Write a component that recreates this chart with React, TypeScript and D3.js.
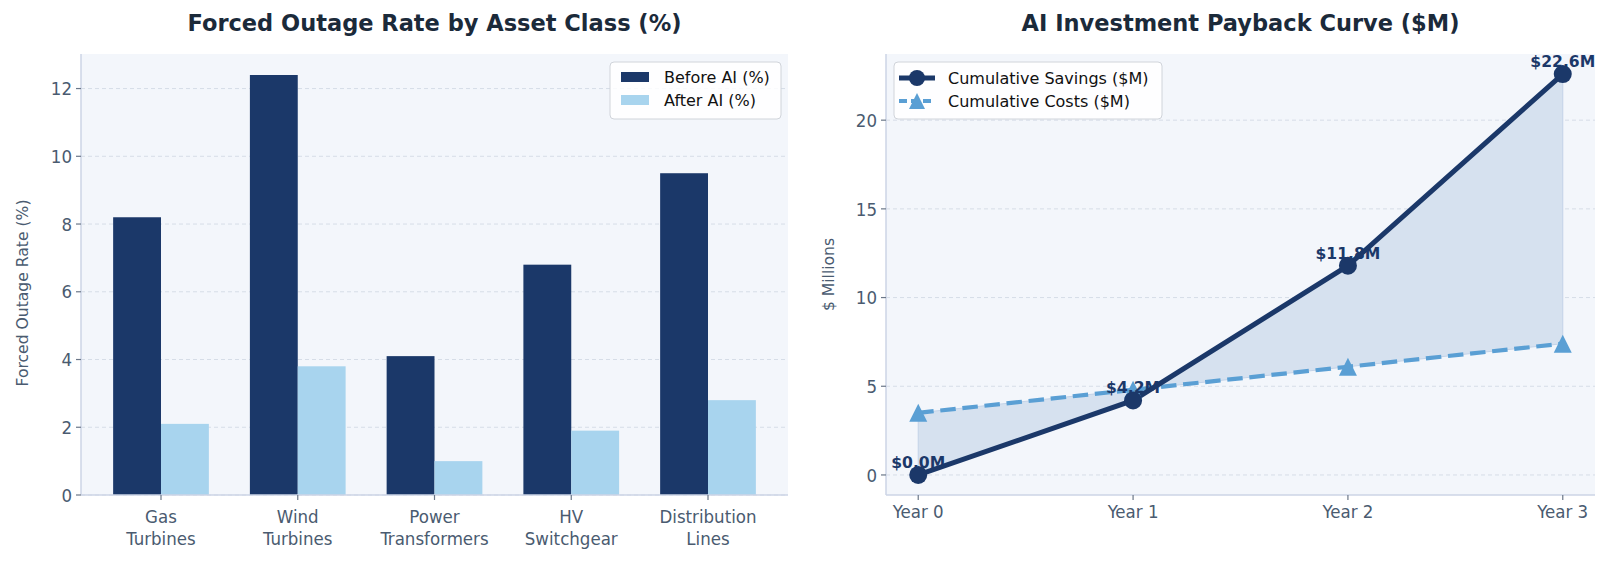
import React from 'react';
import * as d3 from 'd3';

// data
const assetClasses = ['Gas\nTurbines', 'Wind\nTurbines', 'Power\nTransformers', 'HV\nSwitchgear', 'Distribution\nLines'];
const beforeAI = [8.2, 12.4, 4.1, 6.8, 9.5];
const afterAI = [2.1, 3.8, 1.0, 1.9, 2.8];
const outageTicks = [0, 2, 4, 6, 8, 10, 12];

const years = ['Year 0', 'Year 1', 'Year 2', 'Year 3'];
const savings = [0, 4.2, 11.8, 22.6];
const costs = [3.5, 4.8, 6.1, 7.4];
const moneyTicks = [0, 5, 10, 15, 20];

const NAVY = '#1b3869';
const LIGHT = '#a8d4ee';
const BLUE = '#5a9fd4';
const BG = '#f3f6fb';
const SPINE = '#ccd5e6';
const TICK = '#4a5b70';
const GRID = '#d6dde7';
const FONT = 'DejaVu Sans';
const TICK_FS = 18.5;

const W = 1611;
const H = 566;

const left = { x0: 81, x1: 788, y0: 54, y1: 495 };
const right = { x0: 886, x1: 1595, y0: 54, y1: 495 };

function Axes({ box, y, yTicks }) {
  return (
    <g>
      <rect x={box.x0} y={box.y0} width={box.x1 - box.x0} height={box.y1 - box.y0} fill={BG} />
      {yTicks.map(t => (
        <line key={'g' + t} x1={box.x0} x2={box.x1} y1={y(t)} y2={y(t)}
          stroke={GRID} strokeWidth={1} strokeDasharray="4,3" />
      ))}
    </g>
  );
}

function Spines({ box, y, yTicks }) {
  return (
    <g>
      <line x1={box.x0} x2={box.x0} y1={box.y0} y2={box.y1} stroke={SPINE} strokeWidth={1.5} />
      <line x1={box.x0} x2={box.x1} y1={box.y1} y2={box.y1} stroke={SPINE} strokeWidth={1.5} />
      {yTicks.map(t => (
        <g key={'t' + t}>
          <line x1={box.x0 - 5} x2={box.x0} y1={y(t)} y2={y(t)} stroke="#6b7788" strokeWidth={1.2} />
          <text x={box.x0 - 9} y={y(t)} dy="0.36em" textAnchor="end" fontSize={TICK_FS} fontStretch="condensed"
            fill={TICK}>{t}</text>
        </g>
      ))}
    </g>
  );
}

export default function App() {
  // left: grouped bars
  const xb = d3.scaleLinear().domain([-0.585, 4.585]).range([left.x0, left.x1]);
  const yb = d3.scaleLinear().domain([0, 13.02]).range([left.y1, left.y0]);
  const bw = xb(0.35) - xb(0);

  // right: payback curve
  const xl = d3.scaleLinear().domain([-0.15, 3.15]).range([right.x0, right.x1]);
  const yl = d3.scaleLinear().domain([-1.13, 23.73]).range([right.y1, right.y0]);

  const line = d3.line<number>().x((d, i) => xl(i)).y(d => yl(d));
  const area = d3.area<number>().x((d, i) => xl(i)).y0((d, i) => yl(costs[i])).y1(d => yl(d));

  const tri = (cx, cy, r) => `M${cx},${cy - r}L${cx - r},${cy + r}L${cx + r},${cy + r}Z`;

  return (
    <svg width={W} height={H} style={{ position: 'absolute', left: 0, top: 0 }} fontFamily={FONT}>
      <rect width={W} height={H} fill="#fff" />

      {/* ---- left chart ---- */}
      <Axes box={left} y={yb} yTicks={outageTicks} />
      {beforeAI.map((v, i) => (
        <rect key={'b' + i} x={xb(i) - bw} y={yb(v)} width={bw} height={yb(0) - yb(v)} fill={NAVY} />
      ))}
      {afterAI.map((v, i) => (
        <rect key={'a' + i} x={xb(i)} y={yb(v)} width={bw} height={yb(0) - yb(v)} fill={LIGHT} />
      ))}
      <Spines box={left} y={yb} yTicks={outageTicks} />
      {assetClasses.map((c, i) => (
        <g key={'c' + i}>
          <line x1={xb(i)} x2={xb(i)} y1={left.y1} y2={left.y1 + 5} stroke="#6b7788" strokeWidth={1.2} />
          {c.split('\n').map((s, j) => (
            <text key={j} x={xb(i)} y={left.y1 + 28 + j * 21.5} textAnchor="middle" fontSize={TICK_FS}
              fontStretch="condensed" fill={TICK}>{s}</text>
          ))}
        </g>
      ))}
      <text transform={`translate(28,293) rotate(-90)`} textAnchor="middle"
        fontSize={15.6} fill={TICK}>Forced Outage Rate (%)</text>
      <text x={(left.x0 + left.x1) / 2} y={31} textAnchor="middle" fontSize={22.5} fontWeight="bold"
        fill="#1b2a3a">Forced Outage Rate by Asset Class (%)</text>

      {/* legend */}
      <g>
        <rect x={610} y={62} width={171} height={57} rx={4} fill="#fff" fillOpacity={0.85} stroke="#d0d4da" />
        <rect x={621} y={72} width={28} height={10} fill={NAVY} />
        <text x={664} y={83} fontSize={16} fill="#111">Before AI (%)</text>
        <rect x={621} y={95} width={28} height={10} fill={LIGHT} />
        <text x={664} y={106} fontSize={16} fill="#111">After AI (%)</text>
      </g>

      {/* ---- right chart ---- */}
      <Axes box={right} y={yl} yTicks={moneyTicks} />
      <path d={area(savings) ?? ''} fill="#d6e1ef" stroke="#c3d3e8" strokeWidth={1} />
      <path d={line(costs) ?? ''} fill="none" stroke={BLUE} strokeWidth={4.2} strokeDasharray="15.5,6.7" />
      <path d={line(savings) ?? ''} fill="none" stroke={NAVY} strokeWidth={5} />
      {costs.map((v, i) => (
        <path key={'m' + i} d={tri(xl(i), yl(v), 9)} fill={BLUE} />
      ))}
      {savings.map((v, i) => (
        <circle key={'s' + i} cx={xl(i)} cy={yl(v)} r={9} fill={NAVY} />
      ))}
      {savings.map((v, i) => (
        <text key={'l' + i} x={xl(i)} y={yl(v) - 7} textAnchor="middle" fontSize={15.6} fontWeight="bold"
          fill={NAVY}>{`$${v.toFixed(1)}M`}</text>
      ))}
      <Spines box={right} y={yl} yTicks={moneyTicks} />
      {years.map((c, i) => (
        <g key={'y' + i}>
          <line x1={xl(i)} x2={xl(i)} y1={right.y1} y2={right.y1 + 5} stroke="#6b7788" strokeWidth={1.2} />
          <text x={xl(i)} y={right.y1 + 23} textAnchor="middle" fontSize={TICK_FS} fontStretch="condensed"
            fill={TICK}>{c}</text>
        </g>
      ))}
      <text transform={`translate(834,${(right.y0 + right.y1) / 2}) rotate(-90)`} textAnchor="middle"
        fontSize={15.6} fill={TICK}>$ Millions</text>
      <text x={(right.x0 + right.x1) / 2} y={31} textAnchor="middle" fontSize={22.5} fontWeight="bold"
        fill="#1b2a3a">AI Investment Payback Curve ($M)</text>

      {/* legend */}
      <g>
        <rect x={894} y={62} width={268} height={57} rx={4} fill="#fff" fillOpacity={0.85} stroke="#d0d4da" />
        <line x1={899} x2={935} y1={78} y2={78} stroke={NAVY} strokeWidth={5} />
        <circle cx={917} cy={78} r={8} fill={NAVY} />
        <text x={948} y={84} fontSize={16} fill="#111">Cumulative Savings ($M)</text>
        <line x1={899} x2={935} y1={101} y2={101} stroke={BLUE} strokeWidth={4.2} strokeDasharray="8,4" />
        <path d={tri(917, 101, 8)} fill={BLUE} />
        <text x={948} y={107} fontSize={16} fill="#111">Cumulative Costs ($M)</text>
      </g>
    </svg>
  );
}
